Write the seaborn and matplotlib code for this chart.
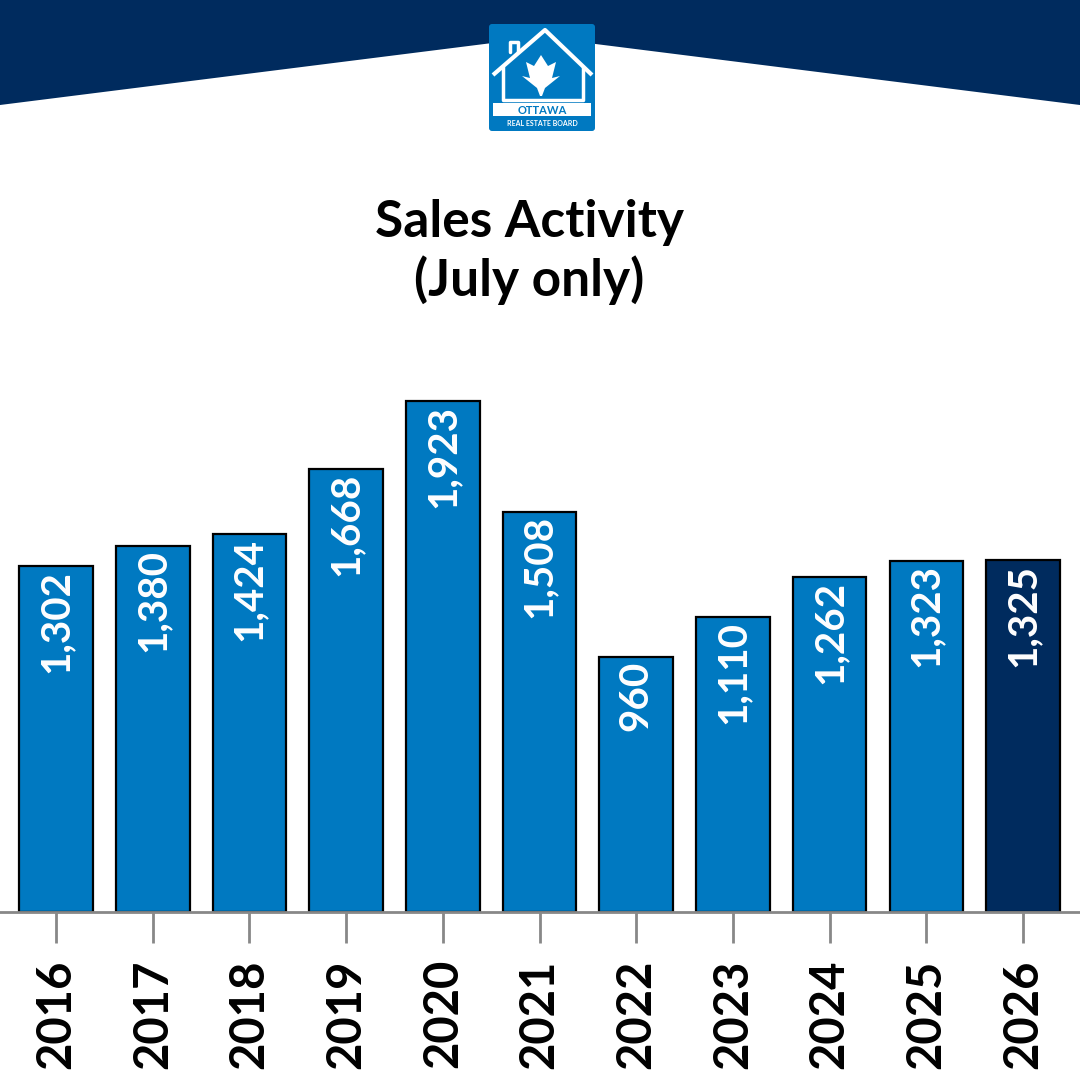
import matplotlib.pyplot as plt
import matplotlib.patches as mpatches
import seaborn as sns
import pandas as pd

years = ['2016', '2017', '2018', '2019', '2020', '2021', '2022', '2023', '2024', '2025', '2026']
sales = [1302, 1380, 1424, 1668, 1923, 1508, 960, 1110, 1262, 1323, 1325]

BLUE = '#0079C1'
NAVY = '#002B5E'

sns.set_theme(style='white')
plt.rcParams['font.family'] = ['Lato', 'DejaVu Sans']

fig = plt.figure(figsize=(10.8, 10.8), dpi=100)
fig.patch.set_facecolor('white')

# header band with a peak in the middle
hdr = fig.add_axes([0, 0, 1, 1], zorder=0)
hdr.set_xlim(0, 1080)
hdr.set_ylim(1080, 0)
hdr.axis('off')
hdr.add_patch(mpatches.Polygon([(0, 0), (1080, 0), (1080, 105), (540, 37), (0, 105)],
                               closed=True, color=NAVY, lw=0))
# logo
hdr.add_patch(mpatches.FancyBboxPatch((489, 24), 106, 107, boxstyle='round,pad=0,rounding_size=3',
                                      color=BLUE, lw=0))
hdr.plot([493, 545, 592], [75, 30, 75], color='white', lw=3, solid_capstyle='butt')
hdr.plot([503, 503, 583, 583], [67, 100, 100, 67], color='white', lw=2.5)
hdr.plot([510, 510, 518, 518], [52, 42, 42, 52], color='white', lw=2.5)
hdr.add_patch(mpatches.Polygon([(541, 55), (548, 66), (556, 62), (552, 78), (560, 76), (545, 88),
                                (542, 96), (540, 96), (537, 88), (522, 76), (530, 78), (526, 62),
                                (534, 66)], closed=True, color='white', lw=0))
hdr.add_patch(mpatches.Rectangle((493, 103), 98, 13, color='white', lw=0))
hdr.text(542, 110, 'OTTAWA', color=BLUE, fontsize=8, fontweight='bold', ha='center', va='center')
hdr.text(542, 124, 'REAL ESTATE BOARD', color='white', fontsize=5, fontweight='bold',
         ha='center', va='center')

fig.text(0.49, 1 - 252 / 1080, 'Sales Activity\n(July only)', ha='center', va='center',
         fontsize=37, fontweight='bold', color='black', linespacing=1.25)

df = pd.DataFrame({'year': years, 'sales': sales})
palette = {y: BLUE for y in years}
palette['2026'] = NAVY

ax = fig.add_axes([0, 1 - 912 / 1080, 1, 0.4917], zorder=1)
ax.patch.set_alpha(0)
sns.barplot(data=df, x='year', y='sales', hue='year', palette=palette, legend=False,
            width=0.76, edgecolor='black', linewidth=1.6, saturation=1, ax=ax)
ax.set_xlim(-0.58, 10.59)
ax.set_ylim(0, 2000)
ax.set_xlabel('')
ax.set_ylabel('')
ax.set_yticks([])
for s in ['top', 'left', 'right']:
    ax.spines[s].set_visible(False)
ax.spines['bottom'].set_color('#888888')
ax.spines['bottom'].set_linewidth(2)
ax.tick_params(axis='x', bottom=True, length=22, width=2, color='#888888', pad=12)
for lbl in ax.get_xticklabels():
    lbl.set_rotation(90)
    lbl.set_fontsize(34)
    lbl.set_fontweight('bold')
    lbl.set_color('black')
    lbl.set_va('top')

for i, v in enumerate(sales):
    ax.text(i, v - 14, f'{v:,}', rotation=90, ha='center', va='top', color='white',
            fontsize=29, fontweight='bold')

fig.savefig('out.png', dpi=100, facecolor='white')
